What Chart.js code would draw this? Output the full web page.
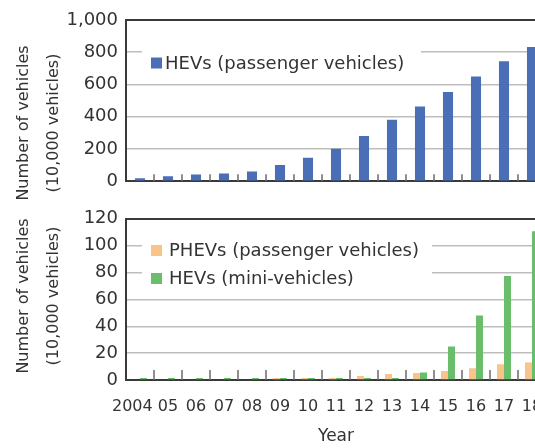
<!DOCTYPE html>
<html>
<head>
<meta charset="utf-8">
<script src="https://cdn.jsdelivr.net/npm/chart.js@4"></script>
<style>
  html, body { margin: 0; padding: 0; background: #fff; overflow: hidden; }
  #wrap { position: relative; width: 550px; height: 448px; }
  #wrap canvas { position: absolute; left: 0; }
</style>
</head>
<body>
<div id="wrap">
  <canvas id="topChart" width="550" height="200" style="top:0"></canvas>
  <canvas id="bottomChart" width="550" height="248" style="top:200px"></canvas>
</div>
<script>
// --- data ---
const years = ['2004', '05', '06', '07', '08', '09', '10', '11', '12', '13', '14', '15', '16', '17', '18'];
const hevPassenger = [18, 30, 42, 48, 60, 101, 145, 202, 280, 381, 464, 554, 649, 744, 833];
const phevPassenger = [0, 0, 0, 0, 0, 1.5, 1.5, 1.5, 3, 4.5, 5.2, 6.7, 8.8, 11.7, 13.1];
const hevMini = [1.5, 1.5, 1.5, 1.5, 1.5, 1.5, 1.5, 1.5, 1.5, 1.5, 5.5, 25, 48, 77.4, 110.7];
const topTicks = [0, 200, 400, 600, 800, 1000];
const bottomTicks = [0, 20, 40, 60, 80, 100, 120];
const yTitleLines = ['Number of vehicles', '(10,000 vehicles)'];

const FONT = "'DejaVu Sans', Verdana, sans-serif";
const TEXT = '#333333';
const AXIS = '#3a3a3a';
const GRID = '#bdbdbd';

// canvas is 550 wide, the page only 535: the last year gets cut off like in the original
const PAD_RIGHT = 4;

// rotated two-line y title, placed by hand
const yTitlePlugin = {
  id: 'yTitle',
  afterDraw(chart, args, opts) {
    const ctx = chart.ctx;
    ctx.save();
    ctx.font = '16px ' + FONT;
    ctx.fillStyle = TEXT;
    ctx.textAlign = 'center';
    ctx.textBaseline = 'alphabetic';
    opts.lines.forEach((line, i) => {
      ctx.save();
      ctx.translate(opts.baseX[i], opts.cy);
      ctx.rotate(-Math.PI / 2);
      ctx.fillText(line, 0, 0);
      ctx.restore();
    });
    ctx.restore();
  }
};

// small tick marks between categories, pointing up into the plot
const catTickPlugin = {
  id: 'catTicks',
  afterDraw(chart, args, opts) {
    const x = chart.scales.x;
    const ctx = chart.ctx;
    const bottom = chart.chartArea.bottom;
    const half = (x.getPixelForValue(1) - x.getPixelForValue(0)) / 2;
    ctx.save();
    ctx.strokeStyle = '#6a6a6a';
    ctx.lineWidth = 1.5;
    for (let i = 0; i < years.length; i++) {
      const px = x.getPixelForValue(i) + half;
      ctx.beginPath();
      ctx.moveTo(px, bottom);
      ctx.lineTo(px, bottom - opts.len);
      ctx.stroke();
    }
    ctx.restore();
  }
};

// legend box inside the plot with white background
const boxLegendPlugin = {
  id: 'boxLegend',
  beforeDatasetsDraw(chart, args, opts) {
    const ctx = chart.ctx;
    ctx.save();
    ctx.fillStyle = '#ffffff';
    ctx.fillRect(opts.bg[0], opts.bg[1], opts.bg[2], opts.bg[3]);
    ctx.font = '18px ' + FONT;
    ctx.textBaseline = 'middle';
    ctx.textAlign = 'left';
    chart.data.datasets.forEach((ds, i) => {
      const cy = opts.y + i * opts.step;
      ctx.fillStyle = ds.backgroundColor;
      ctx.fillRect(opts.x, cy - 5.5, 11, 11);
      ctx.fillStyle = TEXT;
      ctx.fillText(ds.label, opts.x + 11 + opts.gap, cy + 1);
    });
    ctx.restore();
  }
};

function yScale(max, ticks) {
  return {
    min: 0,
    max: max,
    afterBuildTicks: s => { s.ticks = ticks.map(v => ({ value: v })); },
    afterFit: s => { s.width = 126; },
    ticks: {
      color: TEXT,
      font: { family: FONT, size: 18 },
      padding: 8,
      callback: v => v.toLocaleString('en-US')
    },
    grid: {
      drawTicks: false,
      color: c => (c.tick && c.tick.value === max ? AXIS : GRID),
      lineWidth: c => (c.tick && c.tick.value === max ? 2 : 1.5)
    },
    border: { color: AXIS, width: 2 }
  };
}

new Chart(document.getElementById('topChart'), {
  type: 'bar',
  data: {
    labels: years,
    datasets: [{
      label: 'HEVs (passenger vehicles)',
      data: hevPassenger,
      backgroundColor: '#4a6fb7',
      categoryPercentage: 0.36,
      barPercentage: 1
    }]
  },
  options: {
    responsive: false,
    animation: false,
    layout: { padding: { top: 20, right: PAD_RIGHT, left: 0, bottom: 0 } },
    plugins: {
      legend: { display: false },
      tooltip: { enabled: false },
      yTitle: { lines: yTitleLines, baseX: [28, 58], cy: 123 },
      catTicks: { len: 7 },
      boxLegend: { x: 151, y: 63, step: 28, gap: 3, bg: [142, 44, 279, 34] }
    },
    scales: {
      x: {
        ticks: { display: false },
        grid: { display: false },
        border: { color: AXIS, width: 2 },
        afterFit: s => { s.height = 12; }
      },
      y: yScale(1000, topTicks)
    }
  },
  plugins: [yTitlePlugin, catTickPlugin, boxLegendPlugin]
});

new Chart(document.getElementById('bottomChart'), {
  type: 'bar',
  data: {
    labels: years,
    datasets: [{
      label: 'PHEVs (passenger vehicles)',
      data: phevPassenger,
      backgroundColor: '#f9c489',
      categoryPercentage: 0.5,
      barPercentage: 1
    }, {
      label: 'HEVs (mini-vehicles)',
      data: hevMini,
      backgroundColor: '#6abd6a',
      categoryPercentage: 0.5,
      barPercentage: 1
    }]
  },
  options: {
    responsive: false,
    animation: false,
    layout: { padding: { top: 12, right: PAD_RIGHT, left: 0, bottom: 0 } },
    plugins: {
      legend: { display: false },
      tooltip: { enabled: false },
      yTitle: { lines: yTitleLines, baseX: [28, 58], cy: 96 },
      catTicks: { len: 10 },
      boxLegend: { x: 151, y: 50.5, step: 28, gap: 7, bg: [142, 36, 290, 57] }
    },
    scales: {
      x: {
        ticks: {
          color: TEXT,
          font: { family: FONT, size: 16 },
          padding: 3,
          maxRotation: 0,
          autoSkip: false,
          // the long first label sits a little to the left in the original
          callback: (v, i) => (i === 0 ? years[i] + '   ' : years[i])
        },
        // hidden tick marks only push the labels down
        grid: { display: false, drawTicks: true, tickLength: 14 },
        border: { color: AXIS, width: 2 },
        title: {
          display: true,
          text: 'Year',
          color: TEXT,
          font: { family: FONT, size: 17 },
          padding: { top: 0, bottom: 1 }
        },
        afterFit: s => { s.height = 68; }
      },
      y: yScale(120, bottomTicks)
    }
  },
  plugins: [yTitlePlugin, catTickPlugin, boxLegendPlugin]
});
</script>
</body>
</html>
